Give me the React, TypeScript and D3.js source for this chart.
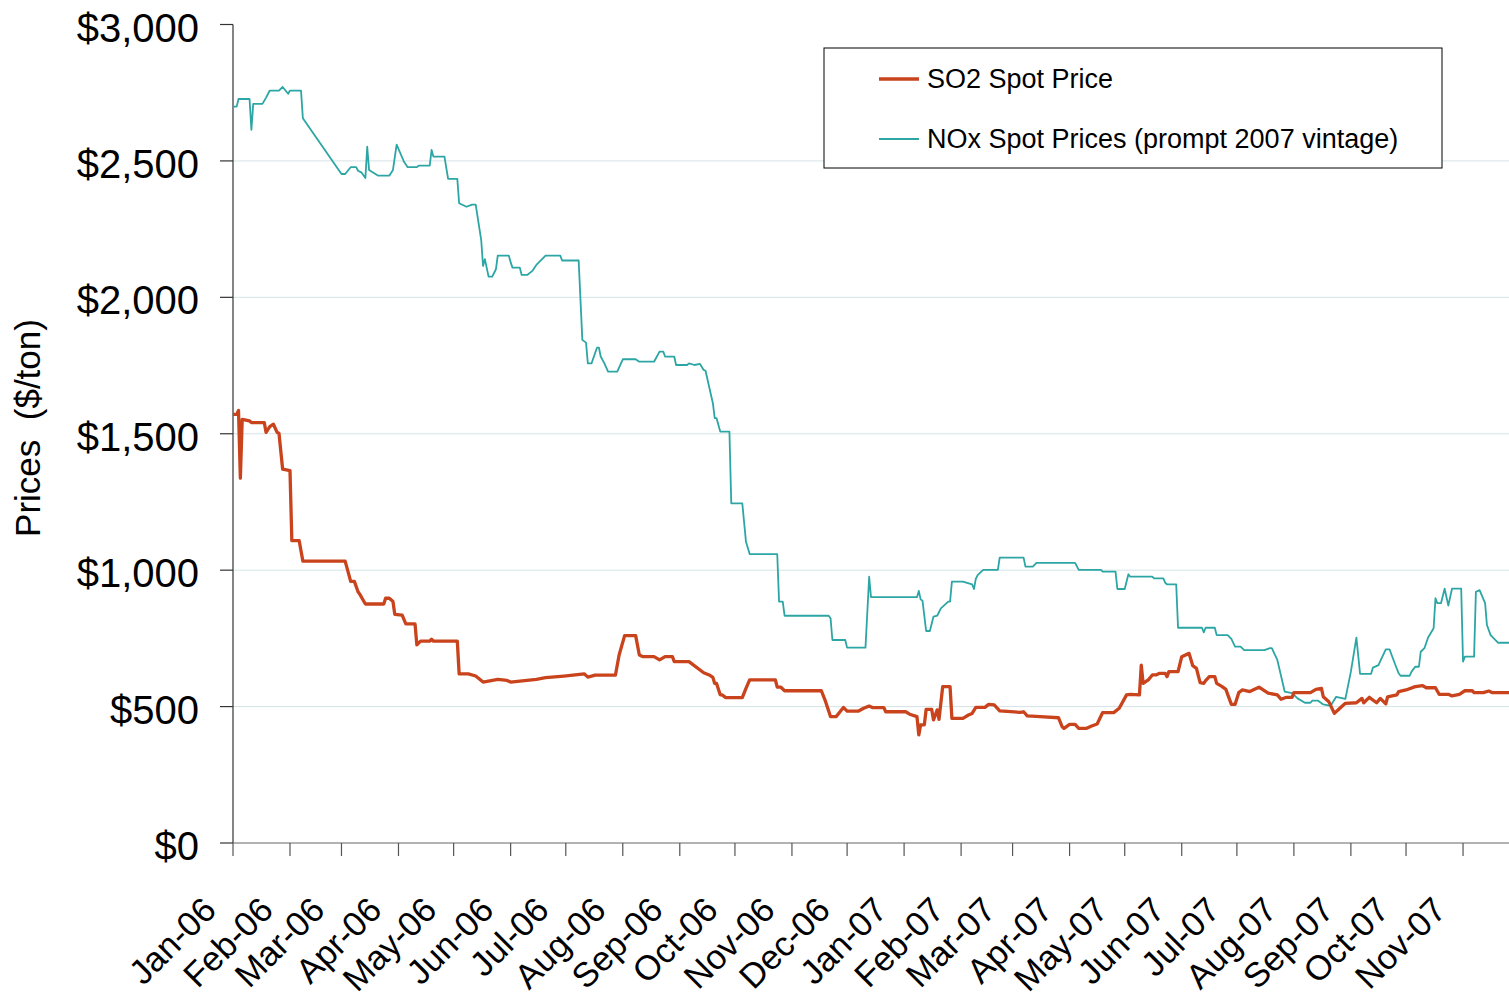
import React from "react";
import * as d3 from "d3";

// Days since 1 Jan 2006
const noxDay = [0,2,3,9,10,11,16,18,20,25,27,30,31,37,38,59,61,64,67,68,70,72,73,74,79,85,87,89,93,95,100,101,107,108,109,115,117,122,123,127,130,132,135,136,137,139,141,143,144,150,151,152,156,157,160,163,165,170,178,179,188,190,192,193,195,198,199,200,202,204,209,212,219,221,229,232,234,235,240,241,247,248,251,254,256,257,261,262,263,265,270,271,277,279,281,296,297,299,300,324,325,326,333,334,344,346,347,372,373,374,375,377,379,381,383,385,389,390,391,397,402,403,404,405,408,416,417,430,431,435,437,458,460,472,473,480,481,485,487,488,500,501,506,507,508,513,514,527,528,529,534,535,541,543,545,548,550,561,564,565,568,572,576,579,583,586,587,590,593,597,600,605,608,611,613,619,620,623,625,627,629,632,634,635,640,641,643,645,646,648,650,653,654,655,657,659,661,663,668,669,670,675,676,678,681,682,684,688,694];
const noxPrice = [2699,2699,2727,2727,2614,2709,2709,2732,2758,2758,2771,2746,2758,2758,2656,2452,2452,2477,2477,2464,2457,2437,2552,2467,2446,2446,2467,2560,2497,2477,2477,2483,2483,2540,2516,2516,2434,2434,2345,2332,2340,2340,2210,2115,2140,2076,2076,2103,2153,2153,2129,2109,2109,2082,2082,2098,2119,2153,2153,2135,2135,1844,1834,1758,1758,1816,1816,1783,1758,1728,1728,1773,1773,1764,1764,1801,1801,1783,1783,1752,1752,1758,1752,1756,1734,1731,1612,1557,1557,1508,1508,1245,1245,1104,1059,1059,885,885,833,833,824,744,744,716,716,976,901,901,924,893,888,777,777,830,833,860,885,885,958,958,948,931,968,982,1001,1001,1046,1046,1013,1013,1027,1027,1001,1001,995,995,931,931,985,976,976,970,970,954,948,948,789,789,772,789,789,762,762,748,720,720,707,707,714,714,671,555,549,530,514,514,522,522,508,503,536,528,628,753,620,620,643,652,681,710,710,656,622,613,613,628,646,646,701,714,753,787,897,879,879,932,870,932,932,665,683,683,921,927,879,799,762,734,734];

const so2Day = [0,2,3,4,5,9,10,17,18,20,22,24,25,27,31,32,36,38,61,64,66,68,69,72,82,83,85,87,88,92,94,99,100,102,107,108,109,122,123,128,132,136,144,149,151,165,170,180,191,193,197,208,210,213,219,221,223,229,232,235,239,240,248,256,259,261,262,263,265,266,268,277,279,281,295,296,298,300,320,322,325,328,332,334,340,343,346,348,354,355,366,368,372,373,374,376,377,380,381,383,384,386,390,391,397,400,402,404,409,411,414,417,428,430,432,439,449,451,452,455,458,460,464,467,470,473,479,482,486,488,493,494,495,498,500,502,504,507,508,509,514,516,520,522,524,526,528,529,531,534,535,538,540,543,545,547,549,553,558,563,568,570,573,576,577,586,589,592,593,596,599,602,605,611,614,615,618,622,624,627,628,633,634,638,643,647,649,654,656,661,663,667,670,674,675,680,683,685,694];
const so2Price = [1571,1571,1585,1337,1553,1547,1541,1541,1505,1526,1535,1505,1502,1370,1365,1108,1108,1033,1033,959,959,921,911,876,876,897,897,885,838,835,803,803,726,740,740,747,740,740,620,620,612,590,600,596,590,600,606,612,620,608,615,615,689,760,760,689,683,683,671,683,683,665,665,624,616,607,585,585,543,543,533,533,567,598,598,571,571,558,558,524,463,463,497,483,483,494,502,496,496,481,481,472,463,396,433,433,490,490,451,488,453,573,573,457,457,469,475,497,497,508,506,484,479,481,466,463,459,426,420,435,435,420,420,429,436,478,478,494,543,545,543,652,585,599,616,616,622,622,610,628,628,683,695,650,640,588,585,595,610,610,585,573,563,508,508,551,561,555,571,549,543,527,534,534,551,551,563,567,536,518,475,494,512,514,530,514,534,514,530,510,536,543,555,561,573,577,569,569,545,545,539,545,558,558,551,551,557,551,551];

const yTicks = [0, 500, 1000, 1500, 2000, 2500, 3000];
const gridValues = [500, 1000, 1500, 2000, 2500];
const seriesNames = ["SO2 Spot Price", "NOx Spot Prices (prompt 2007 vintage)"];

const START = new Date(2006, 0, 1);
const END = new Date(2006, 0, 1 + 694);
const toDate = (d: number) => new Date(2006, 0, 1 + d);

const SO2_COLOR = "#C9431C";
const NOX_COLOR = "#2CA6A4";
const FONT = "'Liberation Sans', Arial, sans-serif";

export default function App() {
  const W = 1509, H = 1005;
  const left = 233, right = 1509, top = 24.5, bottom = 843;
  const x = d3.scaleTime().domain([START, END]).range([left, right]);
  const y = d3.scaleLinear().domain([0, 3000]).range([bottom, top]);

  const months = d3.timeMonth.range(START, new Date(2007, 11, 1));
  const fmt = d3.timeFormat("%b-%y");
  const money = (v: number) => "$" + d3.format(",")(v);

  const line = d3
    .line<[number, number]>()
    .x((p) => x(toDate(p[0])))
    .y((p) => y(p[1]));

  const noxPts = noxDay.map((d, i) => [d, noxPrice[i]] as [number, number]);
  const so2Pts = so2Day.map((d, i) => [d, so2Price[i]] as [number, number]);

  return (
    <svg
      width={W}
      height={H}
      style={{ position: "absolute", left: 0, top: 0, background: "#fff" }}
      fontFamily={FONT}
    >
      <defs>
        <clipPath id="plot">
          <rect x={left} y={0} width={right - left} height={bottom} />
        </clipPath>
      </defs>
      {gridValues.map((v) => (
        <line key={v} x1={left} x2={right} y1={y(v)} y2={y(v)} stroke="#D5E3E6" strokeWidth={1} />
      ))}
      <line x1={left} x2={left} y1={top} y2={bottom} stroke="#333" strokeWidth={1.2} />
      {yTicks.map((v) => (
        <g key={v}>
          <line x1={left - 13} x2={left} y1={y(v)} y2={y(v)} stroke="#333" strokeWidth={1.2} />
          <text x={199} y={y(v) + 3} dy="0.35em" textAnchor="end" fontSize={40} fill="#000">
            {money(v)}
          </text>
        </g>
      ))}
      <line x1={left} x2={right} y1={bottom} y2={bottom} stroke="#666" strokeWidth={1.2} />
      {months.map((m) => (
        <g key={m.getTime()}>
          <line x1={x(m)} x2={x(m)} y1={bottom} y2={bottom + 13} stroke="#555" strokeWidth={1.2} />
          <text
            transform={`translate(${x(m) - 15},${912}) rotate(-45)`}
            textAnchor="end"
            fontSize={34.5}
            fill="#000"
          >
            {fmt(m)}
          </text>
        </g>
      ))}
      <text
        transform={`translate(40,${428}) rotate(-90)`}
        textAnchor="middle"
        fontSize={35}
        fill="#000"
        style={{ whiteSpace: "pre" }}
        xmlSpace="preserve"
      >
        {"Prices  ($/ton)"}
      </text>
      <g clipPath="url(#plot)">
        <path d={line(noxPts) || ""} fill="none" stroke={NOX_COLOR} strokeWidth={1.8} strokeLinejoin="round" />
        <path d={line(so2Pts) || ""} fill="none" stroke={SO2_COLOR} strokeWidth={3.3} strokeLinejoin="round" />
      </g>
      <rect x={824} y={48} width={618} height={120} fill="#fff" stroke="#000" strokeWidth={1} />
      <line x1={879} x2={919} y1={79} y2={79} stroke={SO2_COLOR} strokeWidth={3.3} />
      <text x={927} y={79} dy="0.35em" fontSize={27} fill="#000">{seriesNames[0]}</text>
      <line x1={879} x2={919} y1={139} y2={139} stroke={NOX_COLOR} strokeWidth={1.8} />
      <text x={927} y={139} dy="0.35em" fontSize={27} fill="#000">{seriesNames[1]}</text>
    </svg>
  );
}
